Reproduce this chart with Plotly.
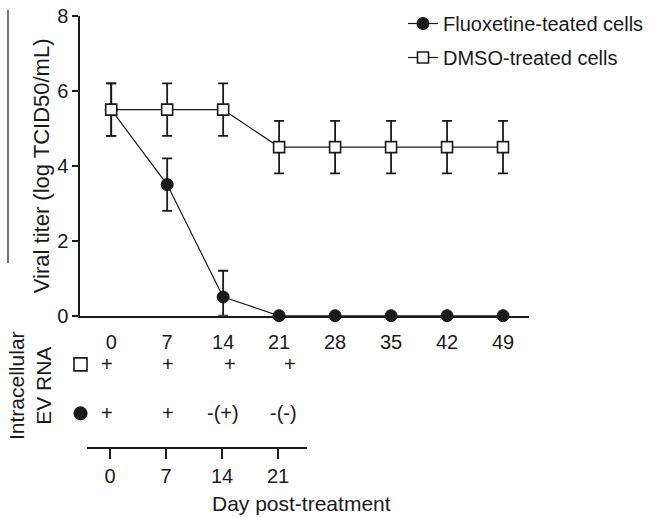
import plotly.graph_objects as go

# ---------------- data ----------------
days = [0, 7, 14, 21, 28, 35, 42, 49]
fluox_titer = [5.5, 3.5, 0.5, 0, 0, 0, 0, 0]
fluox_err_up = [0.7, 0.7, 0.7, 0, 0, 0, 0, 0]
fluox_err_down = [0.7, 0.7, 0.5, 0, 0, 0, 0, 0]
dmso_titer = [5.5, 5.5, 5.5, 4.5, 4.5, 4.5, 4.5, 4.5]
dmso_err = [0.7, 0.7, 0.7, 0.7, 0.7, 0.7, 0.7, 0.7]
y_ticks = [0, 2, 4, 6, 8]

rna_days = [0, 7, 14, 21]
rna_dmso = ["+", "+", "+", "+"]
rna_fluox = ["+", "+", "-(+)", "-(-)"]

W, H = 654, 518
FONT = "Liberation Sans, Arial, sans-serif"
INK = "#1a1a1a"


def px(x):
    return x / W


def py(y):
    return 1 - y / H


ROW_DMSO, ROW_FLUOX = 0.81, 0.33

fig = go.Figure()

fig.add_trace(go.Scatter(
    x=days, y=fluox_titer, name="Fluoxetine-teated cells",
    mode="lines+markers", legendrank=1, legendgroup="f",
    line=dict(color=INK, width=1.2),
    marker=dict(symbol="circle", size=12, color=INK, line=dict(color=INK, width=1)),
    error_y=dict(type="data", array=fluox_err_up, arrayminus=fluox_err_down,
                 symmetric=False, color=INK, thickness=1.8, width=5),
    cliponaxis=False,
))
fig.add_trace(go.Scatter(
    x=days, y=dmso_titer, name="DMSO-treated cells",
    mode="lines+markers", legendrank=2, legendgroup="d",
    line=dict(color=INK, width=1.2),
    marker=dict(symbol="square", size=11, color="white", line=dict(color=INK, width=1.6)),
    error_y=dict(type="data", array=dmso_err, color=INK, thickness=1.8, width=5),
    cliponaxis=False,
))

# table key symbols (lower panel, left of the day columns)
fig.add_trace(go.Scatter(
    x=[0.5], y=[ROW_DMSO], xaxis="x3", yaxis="y3", mode="markers", showlegend=False,
    marker=dict(symbol="square", size=13, color="white", line=dict(color=INK, width=1.6)),
    cliponaxis=False, hoverinfo="skip",
))
fig.add_trace(go.Scatter(
    x=[0.5], y=[ROW_FLUOX], xaxis="x3", yaxis="y3", mode="markers", showlegend=False,
    marker=dict(symbol="circle", size=14, color=INK),
    cliponaxis=False, hoverinfo="skip",
))

annotations = []
dmso_shift = [-3, 2, 8, 12]
fluox_shift = [-3, 2, 1, 5]
for d, t, s in zip(rna_days, rna_dmso, dmso_shift):
    annotations.append(dict(x=d, y=ROW_DMSO, xref="x2", yref="y2", text=t, showarrow=False,
                            xanchor="center", yanchor="middle",
                            xshift=s, font=dict(size=20, color=INK, family=FONT)))
for d, t, s in zip(rna_days, rna_fluox, fluox_shift):
    annotations.append(dict(x=d, y=ROW_FLUOX, xref="x2", yref="y2", text=t, showarrow=False,
                            xanchor="center", yanchor="middle",
                            xshift=s, font=dict(size=20, color=INK, family=FONT)))

annotations.append(dict(x=px(30), y=py(386), xref="paper", yref="paper",
                        xanchor="center", yanchor="middle",
                        text="Intracellular<br>EV RNA", textangle=-90, showarrow=False,
                        font=dict(size=21, color=INK, family=FONT)))
annotations.append(dict(x=px(301), y=py(503), xref="paper", yref="paper",
                        xanchor="center", yanchor="middle",
                        text="Day post-treatment", showarrow=False,
                        font=dict(size=21, color=INK, family=FONT)))

shapes = [dict(type="line", xref="paper", yref="paper", x0=px(8), x1=px(8),
               y0=py(10), y1=py(263), line=dict(color=INK, width=1.2))]

fig.update_layout(
    width=W, height=H,
    margin=dict(l=0, r=0, t=0, b=0, autoexpand=False),
    paper_bgcolor="white", plot_bgcolor="white",
    font=dict(family=FONT, size=20, color=INK),
    showlegend=True,
    legend=dict(x=px(403), y=py(4), xanchor="left", yanchor="top",
                bgcolor="rgba(0,0,0,0)", itemwidth=30, traceorder="grouped",
                tracegroupgap=5, font=dict(size=20, color=INK, family=FONT)),
    xaxis=dict(domain=[px(80), px(529)], range=[-3.9, 52.25],
               tickvals=days, ticktext=[str(d) for d in days],
               showline=True, linecolor=INK, linewidth=1.5,
               ticks="outside", ticklen=8, tickcolor="rgba(0,0,0,0)",
               showgrid=False, zeroline=False, anchor="y",
               tickfont=dict(size=20, color=INK, family=FONT)),
    yaxis=dict(domain=[py(315.7), py(16)], range=[0, 8],
               tickvals=y_ticks, showline=True, linecolor=INK, linewidth=1.5,
               ticks="outside", ticklen=6, tickwidth=1.5, tickcolor=INK,
               showgrid=False, zeroline=False, anchor="x",
               title=dict(text="Viral titer (log TCID50/mL)", standoff=1,
                          font=dict(size=22, color=INK, family=FONT)),
               tickfont=dict(size=20, color=INK, family=FONT)),
    xaxis2=dict(domain=[px(87), px(307)], range=[-2.875, 24.625],
                tickvals=rna_days, ticktext=[str(d) for d in rna_days],
                showline=True, linecolor=INK, linewidth=1.5,
                ticks="outside", ticklen=10, tickwidth=1.5, tickcolor=INK,
                showgrid=False, zeroline=False, anchor="y2",
                tickfont=dict(size=20, color=INK, family=FONT)),
    yaxis2=dict(domain=[py(447), py(345)], range=[0, 1], visible=False,
                anchor="x2", showgrid=False, zeroline=False),
    xaxis3=dict(domain=[px(70), px(91)], range=[0, 1], visible=False,
                anchor="y3", showgrid=False, zeroline=False),
    yaxis3=dict(domain=[py(447), py(345)], range=[0, 1], visible=False,
                anchor="x3", showgrid=False, zeroline=False),
    annotations=annotations,
    shapes=shapes,
)

fig.write_html("out.html", config={"displayModeBar": False},
               post_script="document.body.style.margin='0';document.body.style.overflow='hidden';")
